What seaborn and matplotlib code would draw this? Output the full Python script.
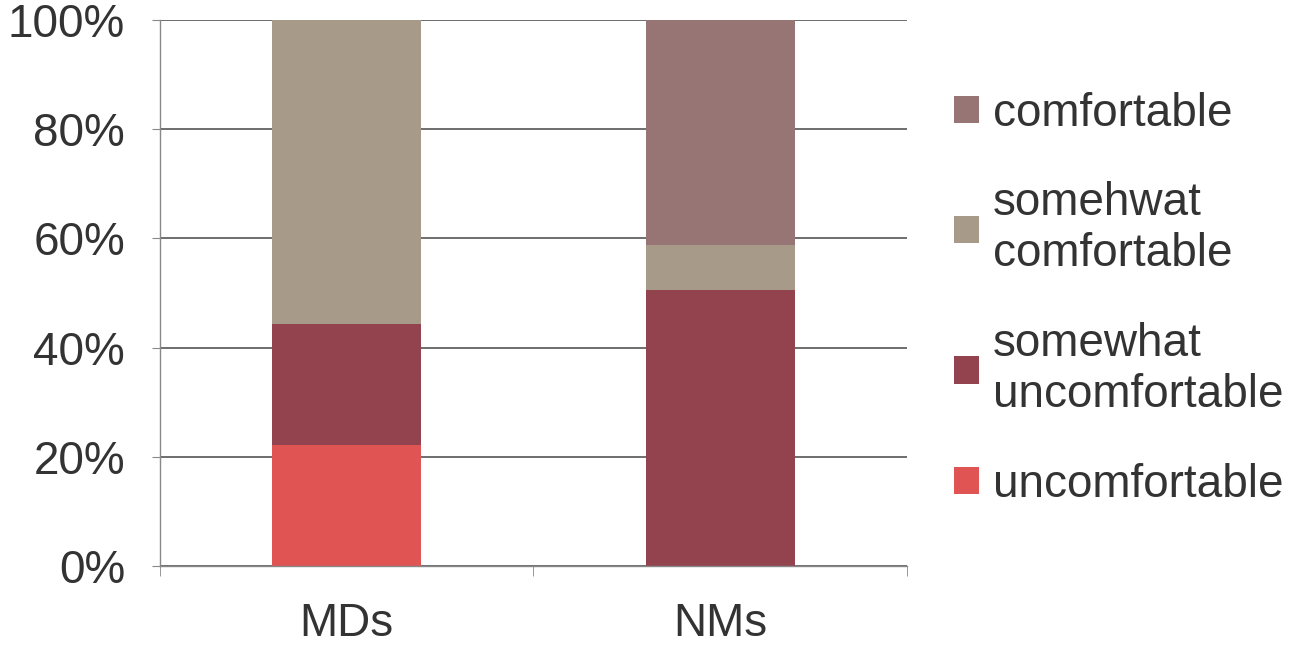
import matplotlib
matplotlib.use("Agg")
import matplotlib.pyplot as plt
import matplotlib.ticker as mticker
import numpy as np
import pandas as pd
import seaborn as sns

# Data (shares of respondents, stacked bottom -> top)
groups = ["MDs", "NMs"]
categories = ["uncomfortable", "somewhat\nuncomfortable", "somehwat\ncomfortable", "comfortable"]
uncomfortable = [0.222, 0.0]
somewhat_uncomfortable = [0.222, 0.505]
somewhat_comfortable = [0.556, 0.083]
comfortable = [0.0, 0.412]
colors = ["#E05454", "#93434D", "#A89A89", "#977574"]

df = pd.DataFrame({
    "group": groups,
    categories[0]: uncomfortable,
    categories[1]: somewhat_uncomfortable,
    categories[2]: somewhat_comfortable,
    categories[3]: comfortable,
})

sns.set_style("white")
plt.rcParams["font.family"] = ["Liberation Sans", "DejaVu Sans"]

fig = plt.figure(figsize=(12.93, 6.45), dpi=100)
ax = fig.add_axes([0.1237, 0.1225, 0.5778, 0.8465])

bottom = np.zeros(len(groups))
for cat, col in zip(categories, colors):
    sns.barplot(data=df, x="group", y=cat, color=col, width=0.4,
                bottom=bottom, ax=ax, label=cat, saturation=1, linewidth=0)
    bottom = bottom + df[cat].to_numpy()

ax.set_xlim(-0.5, 1.5)
ax.set_ylim(0, 1)
ax.set_xlabel("")
ax.set_ylabel("")

# Gridlines & axes
ax.set_yticks(np.linspace(0, 1, 6))
ax.yaxis.set_major_formatter(mticker.PercentFormatter(1.0, decimals=0))
ax.yaxis.grid(True, color="#555555", linewidth=1.2)
ax.set_axisbelow(True)
for s in ["top", "right"]:
    ax.spines[s].set_visible(False)
for s in ["left", "bottom"]:
    ax.spines[s].set_color("#888888")
    ax.spines[s].set_linewidth(1)

ax.tick_params(axis="y", labelsize=33, length=6, color="#888888", pad=19,
               labelcolor="#333333", left=True)
ax.set_xticks([0, 1])
ax.set_xticks([-0.5, 0.5, 1.5], minor=True)
ax.tick_params(axis="x", which="major", length=0, labelsize=33, pad=26,
               labelcolor="#333333")
ax.tick_params(axis="x", which="minor", length=7, color="#888888", bottom=True)

# Legend (top item = top of stack)
handles, labels = ax.get_legend_handles_labels()
ax.get_legend().remove()
leg = fig.legend(handles[::-1], labels[::-1], loc="upper left",
                 bbox_to_anchor=(0.706, 0.922), frameon=False, fontsize=33,
                 handlelength=0.55, handleheight=0.55, handletextpad=0.3,
                 labelspacing=1.0, labelcolor="#333333")

fig.savefig("out.png", dpi=100)
